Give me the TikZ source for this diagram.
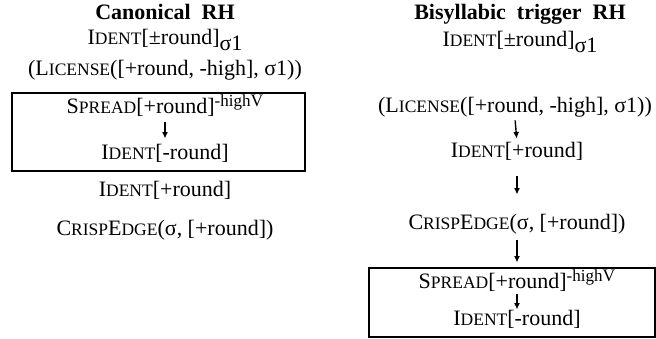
\documentclass[tikz,border=0pt]{standalone}
\usepackage{fontspec}
\setmainfont{Liberation Serif}
\usetikzlibrary{arrows.meta}
\newcommand{\fs}{\fontsize{22}{25}\selectfont}
\newcommand{\smc}[1]{{\fontsize{17.5}{18}\selectfont #1}}
\newcommand{\supx}[1]{\raisebox{7pt}{\fontsize{17}{18}\selectfont #1}}
\newcommand{\subx}[1]{\raisebox{-5.5pt}{#1}}
\begin{document}
\begin{tikzpicture}[x=1pt,y=-1pt]
\tikzset{
  lbl/.style={inner sep=0pt, text height=15pt, text depth=5.5pt, font=\fs},
  ttl/.style={lbl, font=\fs\bfseries},
  arr/.style={-{Latex[length=6.5pt,width=6pt]}, line width=1.4pt},
  frame/.style={draw, line width=1.5pt, inner sep=0pt},
}
\useasboundingbox (0,0) rectangle (656,339);
\fill[white] (0,0) rectangle (656,339);
% left column
\node[ttl] (lt) at (165,15) {Canonical\ \ RH};
\node[lbl] (lid) at (165,40) {I\smc{DENT}[±round]\subx{σ1}};
\node[lbl] (llic) at (165,71) {(L\smc{ICENSE}([+round, -high], σ1))};
\node[frame, minimum width=293pt, minimum height=78pt] (lbox) at (158.5,132) {};
\node[lbl] (lsp) at (165,109) {S\smc{PREAD}[+round]\supx{-high\smc{V}}};
\node[lbl] (lim) at (165,155) {I\smc{DENT}[-round]};
\node[lbl] (lip) at (165,192) {I\smc{DENT}[+round]};
\node[lbl] (lce) at (165,231) {C\smc{RISP}E\smc{DGE}(σ, [+round])};
\draw[arr, shorten <=3pt, shorten >=6pt] (lsp.south) -- (lsp.south |- lim.north);
% right column
\node[ttl] (rt) at (520,15) {Bisyllabic\ \ trigger\ \ RH};
\node[lbl] (rid) at (520,42) {I\smc{DENT}[±round]\subx{σ1}};
\node[lbl] (rlic) at (515,108) {(L\smc{ICENSE}([+round, -high], σ1))};
\node[lbl] (rip) at (517,153) {I\smc{DENT}[+round]};
\node[lbl] (rce) at (517,225) {C\smc{RISP}E\smc{DGE}(σ, [+round])};
\node[frame, minimum width=286pt, minimum height=69pt] (rbox) at (512,302.5) {};
\node[lbl] (rsp) at (517,284) {S\smc{PREAD}[+round]\supx{-high\smc{V}}};
\node[lbl] (rim) at (517,321) {I\smc{DENT}[-round]};
\draw[arr, shorten <=2pt, shorten >=4pt] (rlic.south) -- (rip.north);
\draw[arr, shorten <=13pt, shorten >=20pt] (rip.south) -- (rce.north);
\draw[arr, shorten <=4.5pt, shorten >=11pt] (rce.south) -- (rce.south |- rsp.north);
\draw[arr, shorten <=0pt, shorten >=1pt] (rsp.south -| rce.south) -- (rim.north);
\end{tikzpicture}
\end{document}
